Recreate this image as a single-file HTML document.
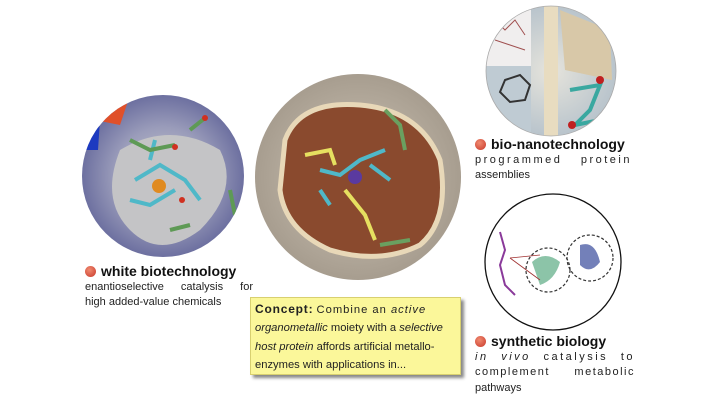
<!DOCTYPE html>
<html><head><meta charset="utf-8"><style>
html,body{margin:0;padding:0;background:#fff;}
body{width:711px;height:400px;position:relative;overflow:hidden;font-family:"Liberation Sans",sans-serif;color:#222;}
.t{position:absolute;font-size:11px;line-height:15.5px;}
.h{font-weight:bold;font-size:14px;color:#111;white-space:nowrap;}
.b{display:inline-block;width:11px;height:11px;border-radius:50%;background:radial-gradient(circle at 40% 35%,#f08a70,#c8382a);vertical-align:-1px;margin-right:5px;}
.j{text-align:justify;text-align-last:justify;white-space:nowrap;}
#box{position:absolute;left:250px;top:297px;width:202px;height:74px;background:#fbf79a;border:1px solid #d8d070;box-shadow:3px 3px 3px #888;padding:2px 3px 0 4px;font-size:11.2px;line-height:18.3px;color:#222;}
</style></head><body>
<svg width="711" height="400" style="position:absolute;left:0;top:0">
<defs>
<radialGradient id="gl" cx="50%" cy="50%" r="50%"><stop offset="0" stop-color="#c9c9cf"/><stop offset="0.6" stop-color="#9a9cba"/><stop offset="1" stop-color="#6d70a0"/></radialGradient>
<radialGradient id="gc" cx="50%" cy="50%" r="50%"><stop offset="0" stop-color="#cfc6b8"/><stop offset="1" stop-color="#a79d8f"/></radialGradient>
<radialGradient id="gt" cx="50%" cy="50%" r="50%"><stop offset="0" stop-color="#e6e4dc"/><stop offset="1" stop-color="#b9c4cc"/></radialGradient>
<clipPath id="c1"><circle cx="163" cy="176" r="81"/></clipPath>
<clipPath id="c2"><circle cx="358" cy="177" r="103"/></clipPath>
<clipPath id="c3"><circle cx="551" cy="71" r="65"/></clipPath>
</defs>
<circle cx="163" cy="176" r="81" fill="url(#gl)"/>
<g clip-path="url(#c1)">
<path d="M120 150 Q170 120 220 150 Q240 190 200 230 Q160 260 130 230 Q100 200 120 150Z" fill="#c4c4c6"/>
<path d="M90 95 L130 95 L120 125 L95 120Z" fill="#e0502a"/>
<path d="M82 120 L100 120 L98 150 L82 150Z" fill="#1d3ac0"/>
<g stroke="#4fb8c8" stroke-width="4" fill="none"><path d="M135 180 L160 165 L185 180 L200 200"/><path d="M130 200 L150 205 L175 190"/><path d="M150 160 L155 140"/></g>
<g stroke="#5e9a55" stroke-width="4" fill="none"><path d="M130 140 L150 150 L175 145"/><path d="M190 130 L205 118"/><path d="M230 190 L235 215"/><path d="M170 230 L190 225"/></g>
<circle cx="159" cy="186" r="7" fill="#e08a20"/>
<circle cx="175" cy="147" r="3" fill="#d03020"/><circle cx="205" cy="118" r="3" fill="#d03020"/><circle cx="182" cy="200" r="3" fill="#d03020"/>
</g>
<circle cx="358" cy="177" r="103" fill="url(#gc)"/>
<g clip-path="url(#c2)">
<path d="M285 140 Q300 100 360 105 Q420 110 440 160 Q450 220 420 245 Q380 265 330 250 Q285 230 280 190Z" fill="#8a4a2e" stroke="#e8d8b8" stroke-width="5"/>
<g stroke="#e6e060" stroke-width="4" fill="none"><path d="M305 155 L330 150 L335 165"/><path d="M345 190 L365 215 L375 240"/></g>
<g stroke="#4fb8c8" stroke-width="4" fill="none"><path d="M320 170 L340 175 L360 160 L385 150"/><path d="M370 165 L390 180"/><path d="M320 190 L330 205"/></g>
<g stroke="#6aa060" stroke-width="4" fill="none"><path d="M385 110 L400 125 L405 150"/><path d="M380 245 L410 240"/></g>
<circle cx="355" cy="177" r="7" fill="#5a3aa0"/>
</g>
<circle cx="551" cy="71" r="65" fill="url(#gt)"/>
<g clip-path="url(#c3)">
<rect x="486" y="6" width="45" height="60" fill="#f0eeee"/>
<rect x="486" y="66" width="45" height="70" fill="#bfcbd3"/>
<rect x="544" y="0" width="14" height="140" fill="#e8dcc0"/>
<path d="M560 10 L610 30 L612 80 L565 70Z" fill="#d8c8a8"/>
<g stroke="#a05050" stroke-width="1" fill="none"><path d="M495 20 L505 30 L515 20 L525 35"/><path d="M495 40 L510 45 L525 50"/></g>
<polygon points="505,80 520,75 530,85 525,100 510,102 500,92" fill="none" stroke="#333" stroke-width="2"/>
<g stroke="#3aa8a0" stroke-width="4" fill="none"><path d="M570 90 L600 85 L590 110 L575 125 L600 120"/></g>
<circle cx="600" cy="80" r="4" fill="#c02020"/><circle cx="572" cy="125" r="4" fill="#c02020"/>
</g>
<circle cx="551" cy="71" r="65" fill="none" stroke="#aaa" stroke-width="0.8"/>
<circle cx="553" cy="262" r="68" fill="#fff" stroke="#111" stroke-width="1.3"/>
<circle cx="548" cy="270" r="22" fill="none" stroke="#333" stroke-width="1.2" stroke-dasharray="3 2"/>
<circle cx="590" cy="258" r="23" fill="none" stroke="#333" stroke-width="1.2" stroke-dasharray="3 2"/>
<path d="M532 262 Q545 250 560 262 Q555 280 540 285Z" fill="#8cc4a8"/>
<path d="M580 245 Q595 240 600 262 Q590 275 580 265Z" fill="#5060a8" opacity="0.8"/>
<g stroke="#8a3a9a" stroke-width="2" fill="none"><path d="M500 232 L505 250 L500 265 L505 285 L515 295"/></g>
<g stroke="#a03030" stroke-width="0.8"><line x1="510" y1="258" x2="540" y2="255"/><line x1="510" y1="258" x2="540" y2="280"/></g>
</svg>
<div class="t" style="left:85px;top:264px;width:168px;">
<div class="h"><span class="b"></span>white biotechnology</div>
<div class="j">enantioselective catalysis for</div>
<div>high added-value chemicals</div>
</div>
<div id="box"><b style="letter-spacing:0.8px;font-size:12px">Concept:</b> <span style="letter-spacing:1px">Combine an <i>active</i></span><br><i>organometallic</i> moiety with a <i>selective</i><br><i>host protein</i> affords artificial metallo-<br>enzymes with applications in...</div>
<div class="t" style="left:475px;top:137px;width:157px;">
<div class="h"><span class="b"></span>bio-nanotechnology</div>
<div class="j" style="letter-spacing:2.5px">programmed protein</div>
<div>assemblies</div>
</div>
<div class="t" style="left:475px;top:334px;width:160px;">
<div class="h"><span class="b"></span>synthetic biology</div>
<div class="j" style="letter-spacing:2.5px"><i>in vivo</i> catalysis to</div>
<div class="j" style="letter-spacing:1.5px">complement metabolic</div>
<div>pathways</div>
</div>
</body></html>
